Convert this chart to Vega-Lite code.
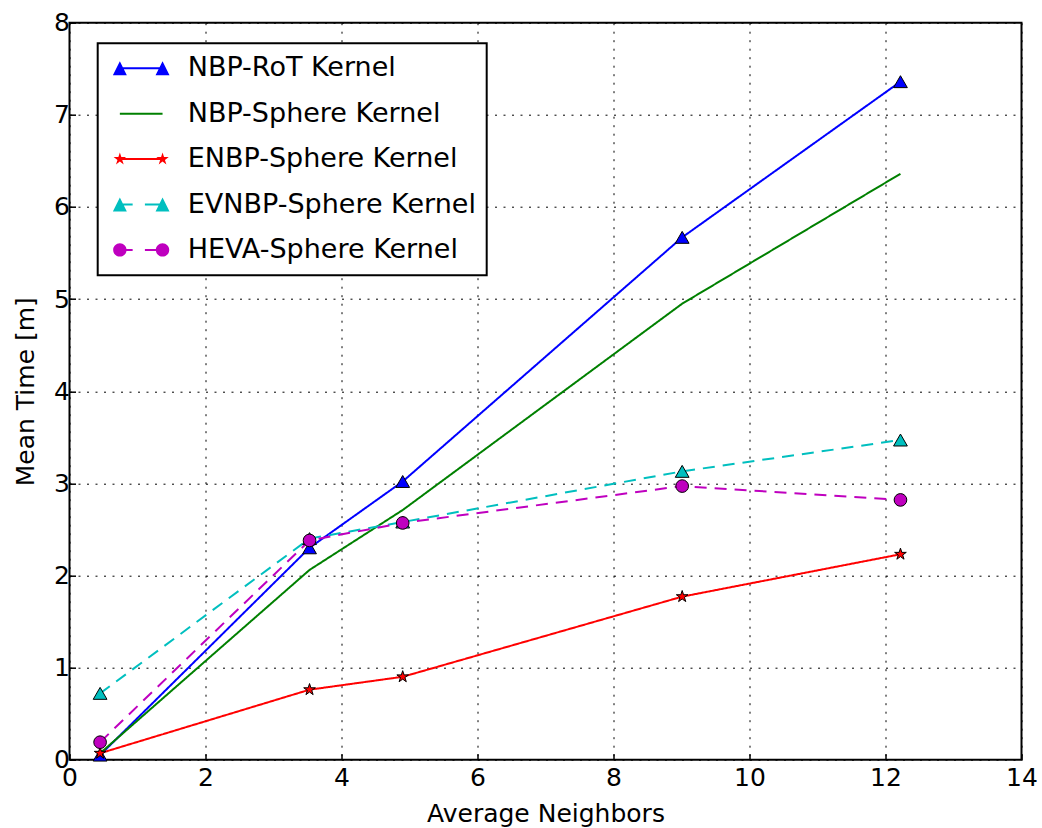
{
  "$schema": "https://vega.github.io/schema/vega-lite/v6.json",
  "autosize": {"type": "none"},
  "width": 952,
  "height": 737,
  "padding": {"left": 69.5, "top": 22.7, "right": 20.5, "bottom": 68.3},
  "background": "white",
  "config": {
    "font": "DejaVu Sans",
    "view": {"stroke": "black", "strokeWidth": 2},
    "legend": {"strokeWidth": 2},
    "axis": {
      "domain": false,
      "grid": true,
      "gridColor": "black",
      "gridDash": [2, 6.5],
      "gridWidth": 1,
      "gridOpacity": 1,
      "ticks": true,
      "tickColor": "black",
      "tickWidth": 1.5,
      "tickSize": -6,
      "labelFlush": false,
      "labelOverlap": false,
      "labelFont": "DejaVu Sans",
      "labelFontSize": 25,
      "labelColor": "black",
      "titleFont": "DejaVu Sans",
      "titleFontSize": 25,
      "titleFontWeight": "normal",
      "titleColor": "black"
    }
  },
  "data": {
    "values": [
      {"series": "NBP-RoT Kernel", "x": 0.45, "y": 0.05},
      {"series": "NBP-RoT Kernel", "x": 3.53, "y": 2.30},
      {"series": "NBP-RoT Kernel", "x": 4.9, "y": 3.02},
      {"series": "NBP-RoT Kernel", "x": 9.01, "y": 5.67},
      {"series": "NBP-RoT Kernel", "x": 12.22, "y": 7.36},
      {"series": "NBP-Sphere Kernel", "x": 0.45, "y": 0.07},
      {"series": "NBP-Sphere Kernel", "x": 3.53, "y": 2.06},
      {"series": "NBP-Sphere Kernel", "x": 4.9, "y": 2.71},
      {"series": "NBP-Sphere Kernel", "x": 9.01, "y": 4.95},
      {"series": "NBP-Sphere Kernel", "x": 12.22, "y": 6.36},
      {"series": "ENBP-Sphere Kernel", "x": 0.45, "y": 0.07},
      {"series": "ENBP-Sphere Kernel", "x": 3.53, "y": 0.76},
      {"series": "ENBP-Sphere Kernel", "x": 4.9, "y": 0.90},
      {"series": "ENBP-Sphere Kernel", "x": 9.01, "y": 1.77},
      {"series": "ENBP-Sphere Kernel", "x": 12.22, "y": 2.23},
      {"series": "EVNBP-Sphere Kernel", "x": 0.45, "y": 0.72},
      {"series": "EVNBP-Sphere Kernel", "x": 3.53, "y": 2.40},
      {"series": "EVNBP-Sphere Kernel", "x": 4.9, "y": 2.58},
      {"series": "EVNBP-Sphere Kernel", "x": 9.01, "y": 3.13},
      {"series": "EVNBP-Sphere Kernel", "x": 12.22, "y": 3.47},
      {"series": "HEVA-Sphere Kernel", "x": 0.45, "y": 0.19},
      {"series": "HEVA-Sphere Kernel", "x": 3.53, "y": 2.38},
      {"series": "HEVA-Sphere Kernel", "x": 4.9, "y": 2.57},
      {"series": "HEVA-Sphere Kernel", "x": 9.01, "y": 2.97},
      {"series": "HEVA-Sphere Kernel", "x": 12.22, "y": 2.82}
    ]
  },
  "encoding": {
    "x": {
      "field": "x", "type": "quantitative",
      "scale": {"domain": [0, 14], "nice": false, "zero": false},
      "axis": {"title": "Average Neighbors", "values": [0, 2, 4, 6, 8, 10, 12, 14], "labelPadding": 12, "titleBaseline": "alphabetic", "titleY": 62}
    },
    "y": {
      "field": "y", "type": "quantitative",
      "scale": {"domain": [0, 8], "nice": false, "zero": false},
      "axis": {"title": "Mean Time [m]", "values": [0, 1, 2, 3, 4, 5, 6, 7, 8], "labelPadding": 6, "titleBaseline": "alphabetic", "titleX": -36.5, "titleY": 368.5, "titleAngle": 270}
    }
  },
  "layer": [
    {
      "mark": {"type": "line", "strokeWidth": 2},
      "encoding": {
        "stroke": {
          "field": "series", "type": "nominal", "legend": null,
          "scale": {
            "domain": ["HEVA-Sphere Kernel", "EVNBP-Sphere Kernel", "ENBP-Sphere Kernel", "NBP-Sphere Kernel", "NBP-RoT Kernel"],
            "range": ["#bf00bf", "#00bfbf", "#ff0000", "#008000", "#0000ff"]
          }
        },
        "strokeDash": {
          "field": "series", "type": "nominal", "legend": null,
          "scale": {
            "domain": ["HEVA-Sphere Kernel", "EVNBP-Sphere Kernel", "ENBP-Sphere Kernel", "NBP-Sphere Kernel", "NBP-RoT Kernel"],
            "range": [[12, 8], [12, 8], [1, 0], [1, 0], [1, 0]]
          }
        }
      }
    },
    {
      "transform": [{"filter": "datum.series === 'NBP-RoT Kernel'"}],
      "mark": {"type": "point", "shape": "triangle-up", "filled": true, "fill": "#0000ff", "stroke": "black", "strokeWidth": 1, "size": 190, "opacity": 1}
    },
    {
      "transform": [{"filter": "datum.series === 'ENBP-Sphere Kernel'"}],
      "mark": {"type": "point", "shape": "M0,-1L0.2245,-0.309L0.9511,-0.309L0.3633,0.118L0.5878,0.809L0,0.382L-0.5878,0.809L-0.3633,0.118L-0.9511,-0.309L-0.2245,-0.309Z", "filled": true, "fill": "#ff0000", "stroke": "black", "strokeWidth": 1, "size": 150, "opacity": 1}
    },
    {
      "transform": [{"filter": "datum.series === 'EVNBP-Sphere Kernel'"}],
      "mark": {"type": "point", "shape": "triangle-up", "filled": true, "fill": "#00bfbf", "stroke": "black", "strokeWidth": 1, "size": 190, "opacity": 1}
    },
    {
      "transform": [{"filter": "datum.series === 'HEVA-Sphere Kernel'"}],
      "mark": {"type": "point", "shape": "circle", "filled": true, "fill": "#bf00bf", "stroke": "black", "strokeWidth": 1, "size": 160, "opacity": 1}
    },
    {
      "mark": {"type": "point", "filled": true, "opacity": 0},
      "encoding": {
        "fill": {
          "field": "series", "type": "nominal",
          "scale": {
            "domain": ["NBP-RoT Kernel", "NBP-Sphere Kernel", "ENBP-Sphere Kernel", "EVNBP-Sphere Kernel", "HEVA-Sphere Kernel"],
            "range": ["#0000ff", "#008000", "#ff0000", "#00bfbf", "#bf00bf"]
          },
          "legend": {
            "title": null,
            "orient": "none",
            "legendX": 28.2,
            "legendY": 20.6,
            "padding": 10,
            "fillColor": "white",
            "strokeColor": "black",
            "cornerRadius": 0,
            "symbolSize": 3249,
            "symbolOpacity": 1,
            "symbolStrokeWidth": 0,
            "symbolStrokeColor": "transparent",
            "symbolOffset": 5,
            "clipHeight": 30,
            "rowPadding": 15.4,
            "labelOffset": 18,
            "labelFont": "DejaVu Sans",
            "labelFontSize": 27,
            "labelColor": "black",
            "labelLimit": 400,
            "encode": {"legend": {"update": {"strokeWidth": {"value": 2}}}}
          }
        },
        "shape": {
          "field": "series", "type": "nominal",
          "scale": {
            "domain": ["NBP-RoT Kernel", "NBP-Sphere Kernel", "ENBP-Sphere Kernel", "EVNBP-Sphere Kernel", "HEVA-Sphere Kernel"],
            "range": [
              "M-0.749,-0.035L0.749,-0.035L0.749,0.035L-0.749,0.035Z M-0.749,-0.245L-0.504,0.245L-0.994,0.245Z M0.749,-0.245L0.994,0.245L0.504,0.245Z",
              "M-0.749,-0.035L0.749,-0.035L0.749,0.035L-0.749,0.035Z",
              "M-0.749,-0.035L0.749,-0.035L0.749,0.035L-0.749,0.035Z M-0.749,-0.23L-0.6973,-0.0712L-0.5303,-0.0711L-0.6653,0.0272L-0.6138,0.1861L-0.749,0.088L-0.8842,0.1861L-0.8327,0.0272L-0.9677,-0.0711L-0.8007,-0.0712Z M0.749,-0.23L0.8007,-0.0712L0.9677,-0.0711L0.8327,0.0272L0.8842,0.1861L0.749,0.088L0.6138,0.1861L0.6653,0.0272L0.5303,-0.0711L0.6973,-0.0712Z",
              "M-0.749,-0.035L-0.3,-0.035L-0.3,0.035L-0.749,0.035Z M0.13,-0.035L0.749,-0.035L0.749,0.035L0.13,0.035Z M-0.749,-0.245L-0.504,0.245L-0.994,0.245Z M0.749,-0.245L0.994,0.245L0.504,0.245Z",
              "M-0.749,-0.035L-0.3,-0.035L-0.3,0.035L-0.749,0.035Z M0.13,-0.035L0.749,-0.035L0.749,0.035L0.13,0.035Z M-0.984,0A0.235,0.235 0 1,1 -0.514,0A0.235,0.235 0 1,1 -0.984,0Z M0.514,0A0.235,0.235 0 1,1 0.984,0A0.235,0.235 0 1,1 0.514,0Z"
            ]
          },
          "legend": {
            "title": null,
            "orient": "none",
            "legendX": 28.2,
            "legendY": 20.6,
            "padding": 10,
            "fillColor": "white",
            "strokeColor": "black",
            "cornerRadius": 0,
            "symbolSize": 3249,
            "symbolOpacity": 1,
            "symbolStrokeWidth": 0,
            "symbolStrokeColor": "transparent",
            "symbolOffset": 5,
            "clipHeight": 30,
            "rowPadding": 15.4,
            "labelOffset": 18,
            "labelFont": "DejaVu Sans",
            "labelFontSize": 27,
            "labelColor": "black",
            "labelLimit": 400,
            "encode": {"legend": {"update": {"strokeWidth": {"value": 2}}}}
          }
        }
      }
    }
  ]
}
